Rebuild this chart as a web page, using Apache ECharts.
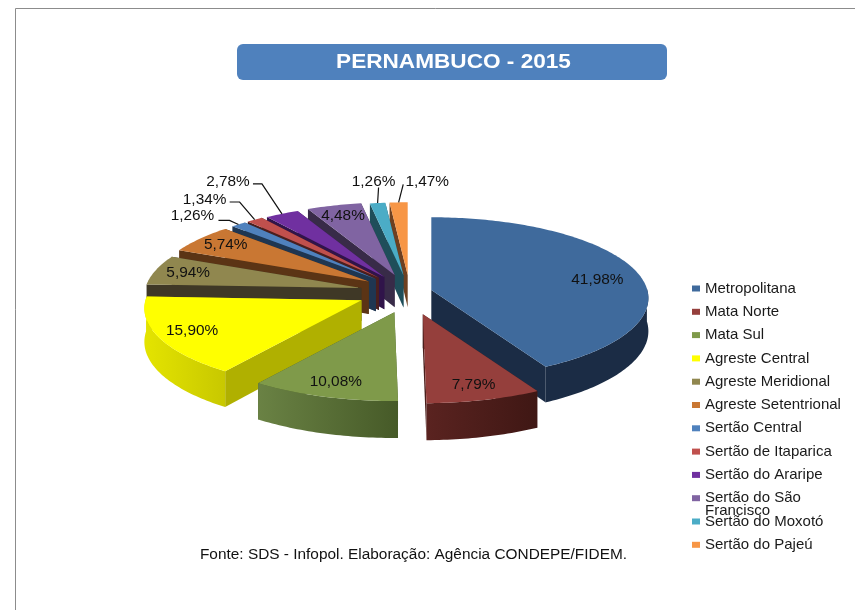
<!DOCTYPE html>
<html>
<head>
<meta charset="utf-8">
<style>html,body{margin:0;padding:0;background:#fff}#c{width:855px;height:610px}</style>
<script src="https://cdn.jsdelivr.net/npm/echarts@6/dist/echarts.min.js"></script>
</head>
<body>
<div id="c"></div>
<script>
// ---- data ----
const chartTitle = 'PERNAMBUCO - 2015';
const sourceNote = 'Fonte: SDS - Infopol. Elaboração: Agência CONDEPE/FIDEM.';
const regions = ['Metropolitana','Mata Norte','Mata Sul','Agreste Central','Agreste Meridional','Agreste Setentrional','Sertão Central','Sertão de Itaparica','Sertão do Araripe','Sertão do São Francisco','Sertão do Moxotó','Sertão do Pajeú'];
const shares = [41.98,7.79,10.08,15.90,5.94,5.74,1.26,1.34,2.78,4.48,1.26,1.47];

// ---- styles ----
const topColors  = ['#3f6a9c','#953f3c','#7f9a4a','#ffff00','#90874f','#c97733','#4f81bd','#c0504d','#7030a0','#8064a2','#4bacc6','#f79646'];
const faceColors = ['#1b2c45','#4a1f1c','#465a28','#b0b000','#3f3826','#5b3415','#1f3651','#4a1f1e','#30144a','#382b48','#1f4e5a','#6e4020'];
const wallFrom   = ['#1b2c45','#5a2320','#6a8244','#e4e400','#3f3826','#5b3415','#1f3651','#4a1f1e','#30144a','#382b48','#1f4e5a','#6e4020'];
const wallTo     = ['#1b2c45','#3f1714','#465a28','#c8c800','#3f3826','#5b3415','#1f3651','#4a1f1e','#30144a','#382b48','#1f4e5a','#6e4020'];
const explodeX = [0.44,1,1.05,1.08,1,1,1,1,1,1,1,1];
const explodeY = [1,1,0.9,0.6,1.5,1.2,1.1,1.1,1.05,1.05,1,1];
// leader-line layout, relative to the slice's rim point (index -> offsets)
const leaders = {
  6:  {path:[[-9,-4],[-20,-4]],    text:[-46,-8]},
  7:  {path:[[-15,-17.6],[-25,-17.6]], text:[-50,-19.6]},
  8:  {path:[[-20,-30],[-29,-30]], text:[-54,-32]},
  10: {path:[[1,-15.6]],           text:[-4,-20.6]},
  11: {path:[[4.6,-18]],           text:[28.6,-20]}
};
const labelNudge = {0:[-6,7]};
const G = {cx:410, cy:295, rx:216, ry:80, persp:0.1, exX:50, exY:20, labelR:0.84};
const FAMILY = '"Liberation Sans", Arial, sans-serif';

// ---- geometry from the values ----
const total = shares.reduce((a,b)=>a+b,0);
const bounds = [];
shares.reduce((acc,v)=>{ const s=acc/total*360, e=(acc+v)/total*360; bounds.push([s,e,(s+e)/2]); return acc+v; },0);
const rad = d=>d*Math.PI/180;
function apex(i){
  const m=rad(bounds[i][2]);
  return [G.cx+G.exX*explodeX[i]*Math.sin(m), G.cy-G.exY*explodeY[i]*Math.cos(m)];
}
function proj(i,r,deg){
  const a=apex(i), t=rad(deg), s=1/(1+G.persp*r*Math.cos(t));
  return [a[0]+G.rx*r*Math.sin(t)*s, a[1]-G.ry*r*Math.cos(t)*s];
}
const depthAt = y => 33+0.037*(y-295);
const drop = p => [p[0], p[1]+depthAt(p[1])];

function slice(i){
  const [s,e]=bounds[i], A=proj(i,0,s), children=[];
  const face = deg=>{ const P=proj(i,1,deg);
    children.push({type:'polygon',shape:{points:[A,P,drop(P),drop(A)]},style:{fill:faceColors[i]}}); };
  face(e); face(s);
  const rim=[];
  for(let d=s;d<e;d+=1){ if(Math.cos(rad(d))<0.03) rim.push(proj(i,1,d)); }
  if(Math.cos(rad(e))<0.03) rim.push(proj(i,1,e));
  if(rim.length>1){
    children.push({type:'polygon',shape:{points:rim.concat(rim.map(drop).reverse())},
      style:{fill:new echarts.graphic.LinearGradient(0,0,1,0,[{offset:0,color:wallFrom[i]},{offset:1,color:wallTo[i]}])}});
  }
  const top=[A];
  for(let d=s;d<e;d+=1) top.push(proj(i,1,d));
  top.push(proj(i,1,e));
  children.push({type:'polygon',shape:{points:top},style:{fill:topColors[i]}});
  return {type:'group',children};
}
function labelItem(i,value){
  const text=value.toFixed(2).replace('.',','), children=[], L=leaders[i];
  let pos;
  if(L){
    const edge=proj(i,1,bounds[i][2]);
    const pts=[edge].concat(L.path.map(o=>[edge[0]+o[0],edge[1]+o[1]]));
    children.push({type:'polyline',shape:{points:pts},style:{stroke:'#111',fill:null,lineWidth:1.2}});
    pos=[edge[0]+L.text[0],edge[1]+L.text[1]];
  } else {
    pos=proj(i,G.labelR,bounds[i][2]);
    const n=labelNudge[i]; if(n) pos=[pos[0]+n[0],pos[1]+n[1]];
  }
  children.push({type:'text',x:pos[0],y:pos[1],scaleX:1.1,style:{text:text+'%',x:0,y:0,align:'center',verticalAlign:'middle',font:'14px '+FAMILY,fill:'#111'}});
  return {type:'group',children};
}

const order = shares.map((_,i)=>i).sort((a,b)=>Math.cos(rad(bounds[b][2]))-Math.cos(rad(bounds[a][2])));
const series = regions.map((name,i)=>({
  type:'custom', name, coordinateSystem:'none', silent:true, animation:false,
  z:2+order.indexOf(i), itemStyle:{color:topColors[i]},
  data:[[shares[i]]], renderItem:()=>slice(i)
}));
series.push({type:'custom',name:'rotulos',coordinateSystem:'none',silent:true,animation:false,z:40,
  data:shares.map(v=>[v]), renderItem:(p,api)=>labelItem(p.dataIndex,api.value(0))});

const chart = echarts.init(document.getElementById('c'),null,{renderer:'canvas'});
chart.setOption({
  backgroundColor:'#fff', animation:false,
  legend:{
    data:regions, orient:'vertical', left:692, top:281, icon:'rect', itemWidth:8, itemHeight:6,
    itemGap:8.3, padding:0, selectedMode:false,
    formatter:n=>n==='Sertão do São Francisco'?'Sertão do São':n,
    textStyle:{color:'#1a1a1a',fontSize:15,fontFamily:FAMILY,lineHeight:13}
  },
  graphic:[
    {type:'polyline',silent:true,z:0,shape:{points:[[15.5,610],[15.5,8.5],[855,8.5]]},style:{stroke:'#8c8c8c',fill:null,lineWidth:1}},
    {type:'rect',silent:true,z:1,shape:{x:237,y:44,width:430,height:36,r:6},style:{fill:'#4f81bd'}},
    {type:'text',silent:true,z:2,x:453.5,y:62,scaleX:1.13,style:{text:chartTitle,x:0,y:0,align:'center',verticalAlign:'middle',font:'bold 20px '+FAMILY,fill:'#fff'}},
    {type:'text',silent:true,z:2,x:413.5,y:555,scaleX:1.1,style:{text:sourceNote,x:0,y:0,align:'center',verticalAlign:'middle',font:'14px '+FAMILY,fill:'#111'}},
    {type:'text',silent:true,z:2,x:705,y:511,style:{text:'Francisco',x:0,y:0,align:'left',verticalAlign:'middle',font:'15px '+FAMILY,fill:'#1a1a1a'}}
  ],
  series
});
</script>
</body>
</html>
